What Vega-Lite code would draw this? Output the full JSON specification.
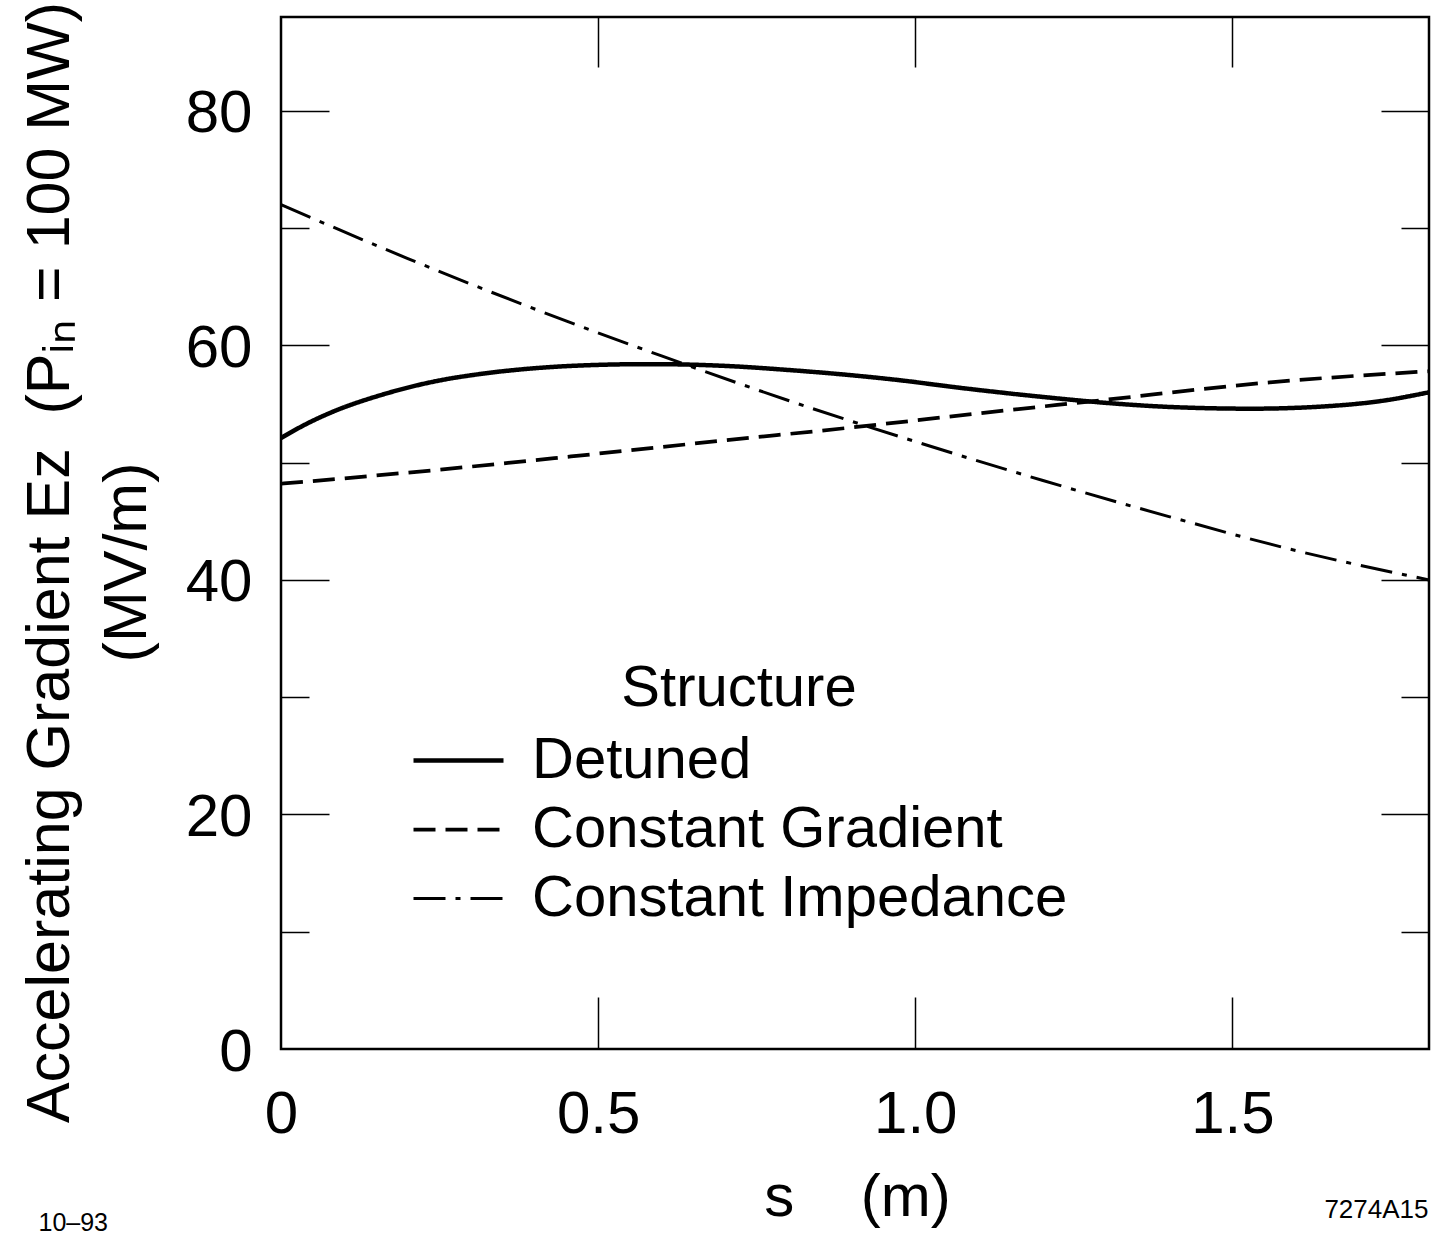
{
  "$schema": "https://vega.github.io/schema/vega-lite/v6.json",
  "width": 1148,
  "height": 1032,
  "autosize": {"type": "none"},
  "padding": {"left": 281, "top": 17, "right": 16, "bottom": 187},
  "background": "white",
  "datasets": {
    "curves": [
      {"s": 0, "E": 52.1, "structure": "Detuned"},
      {"s": 0.04, "E": 53.3, "structure": "Detuned"},
      {"s": 0.08, "E": 54.3, "structure": "Detuned"},
      {"s": 0.16, "E": 55.8, "structure": "Detuned"},
      {"s": 0.24, "E": 56.9, "structure": "Detuned"},
      {"s": 0.32, "E": 57.6, "structure": "Detuned"},
      {"s": 0.40, "E": 58.05, "structure": "Detuned"},
      {"s": 0.48, "E": 58.3, "structure": "Detuned"},
      {"s": 0.58, "E": 58.4, "structure": "Detuned"},
      {"s": 0.70, "E": 58.25, "structure": "Detuned"},
      {"s": 0.80, "E": 57.9, "structure": "Detuned"},
      {"s": 0.90, "E": 57.45, "structure": "Detuned"},
      {"s": 0.98, "E": 57.0, "structure": "Detuned"},
      {"s": 1.06, "E": 56.45, "structure": "Detuned"},
      {"s": 1.14, "E": 55.95, "structure": "Detuned"},
      {"s": 1.22, "E": 55.5, "structure": "Detuned"},
      {"s": 1.30, "E": 55.1, "structure": "Detuned"},
      {"s": 1.40, "E": 54.75, "structure": "Detuned"},
      {"s": 1.53, "E": 54.6, "structure": "Detuned"},
      {"s": 1.66, "E": 54.85, "structure": "Detuned"},
      {"s": 1.74, "E": 55.3, "structure": "Detuned"},
      {"s": 1.81, "E": 56.0, "structure": "Detuned"},
      {"s": 0, "E": 48.2, "structure": "Constant Gradient"},
      {"s": 0.25, "E": 49.4, "structure": "Constant Gradient"},
      {"s": 0.47, "E": 50.6, "structure": "Constant Gradient"},
      {"s": 0.70, "E": 51.9, "structure": "Constant Gradient"},
      {"s": 0.90, "E": 53.0, "structure": "Constant Gradient"},
      {"s": 1.10, "E": 54.2, "structure": "Constant Gradient"},
      {"s": 1.29, "E": 55.3, "structure": "Constant Gradient"},
      {"s": 1.55, "E": 56.8, "structure": "Constant Gradient"},
      {"s": 1.81, "E": 57.8, "structure": "Constant Gradient"},
      {"s": 0, "E": 72.0, "structure": "Constant Impedance"},
      {"s": 0.2, "E": 67.4, "structure": "Constant Impedance"},
      {"s": 0.4, "E": 63.1, "structure": "Constant Impedance"},
      {"s": 0.6, "E": 59.1, "structure": "Constant Impedance"},
      {"s": 0.8, "E": 55.3, "structure": "Constant Impedance"},
      {"s": 1.0, "E": 51.8, "structure": "Constant Impedance"},
      {"s": 1.2, "E": 48.5, "structure": "Constant Impedance"},
      {"s": 1.4, "E": 45.4, "structure": "Constant Impedance"},
      {"s": 1.6, "E": 42.5, "structure": "Constant Impedance"},
      {"s": 1.81, "E": 40.0, "structure": "Constant Impedance"}
    ]
  },
  "data": {"name": "curves"},
  "resolve": {
    "scale": {"x": "shared", "y": "shared"},
    "axis": {"x": "independent", "y": "independent"}
  },
  "layer": [
    {
      "mark": {"type": "line", "opacity": 0},
      "encoding": {
        "x": {"field": "s", "type": "quantitative", "scale": {"domain": [0, 1.81], "nice": false, "zero": false},
          "axis": {"orient": "bottom", "values": [0.5, 1, 1.5], "labels": false, "ticks": true, "tickSize": -52, "title": null}},
        "y": {"field": "E", "type": "quantitative", "scale": {"domain": [0, 88], "nice": false},
          "axis": {"orient": "left", "values": [20, 40, 60, 80], "labels": false, "ticks": true, "tickSize": -48, "title": null}},
        "detail": {"field": "structure"}
      }
    },
    {
      "mark": {"type": "line", "opacity": 0},
      "encoding": {
        "x": {"field": "s", "type": "quantitative",
          "axis": {"orient": "top", "values": [0.5, 1, 1.5], "labels": false, "ticks": true, "tickSize": -50, "title": null}},
        "y": {"field": "E", "type": "quantitative",
          "axis": {"orient": "right", "values": [20, 40, 60, 80], "labels": false, "ticks": true, "tickSize": -48, "title": null}},
        "detail": {"field": "structure"}
      }
    },
    {
      "mark": {"type": "line", "opacity": 0},
      "encoding": {
        "x": {"field": "s", "type": "quantitative",
          "axis": {"orient": "bottom", "labels": false, "ticks": false, "title": "7274A15", "titleFontSize": 26, "titleX": 1147, "titleY": 168, "titleAlign": "right", "titleBaseline": "alphabetic"}},
        "y": {"field": "E", "type": "quantitative",
          "axis": {"orient": "left", "values": [10, 30, 50, 70], "labels": false, "ticks": true, "tickSize": -28, "title": null}},
        "detail": {"field": "structure"}
      }
    },
    {
      "mark": {"type": "line", "opacity": 0},
      "encoding": {
        "x": {"field": "s", "type": "quantitative",
          "axis": {"orient": "bottom", "labels": false, "ticks": false, "title": "10–93", "titleFontSize": 25, "titleX": -243, "titleY": 181, "titleAlign": "left", "titleBaseline": "alphabetic"}},
        "y": {"field": "E", "type": "quantitative",
          "axis": {"orient": "right", "values": [10, 30, 50, 70], "labels": false, "ticks": true, "tickSize": -28, "title": null}},
        "detail": {"field": "structure"}
      }
    },
    {
      "mark": {"type": "line", "interpolate": "monotone", "color": "black"},
      "encoding": {
        "x": {"field": "s", "type": "quantitative",
          "axis": {"orient": "bottom", "values": [0, 0.5, 1, 1.5], "ticks": false,
            "labelExpr": "datum.value == 0 ? '0' : format(datum.value, '.1f')",
            "labelFontSize": 60, "labelBaseline": "alphabetic", "labelPadding": 83, "labelFlush": false, "labelOverlap": false,
            "title": "s\u00a0\u00a0\u00a0\u00a0(m)", "titleFontSize": 60, "titleX": 576, "titleY": 166, "titleBaseline": "alphabetic", "titleAlign": "center"}},
        "y": {"field": "E", "type": "quantitative",
          "axis": {"orient": "left", "values": [0, 20, 40, 60, 80], "ticks": false,
            "labelFontSize": 60, "labelBaseline": "alphabetic", "labelOffset": 21, "labelPadding": 29, "labelAlign": "right", "labelOverlap": false,
            "title": ["Accelerating Gradient Ez\u00a0\u00a0(Pᵢₙ = 100 MW)", "(MV/m)"],
            "titleFontSize": 61, "titleX": -213, "titleY": 545, "titleAngle": -90, "titleAlign": "center", "titleBaseline": "alphabetic", "titleLineHeight": 77, "titleLimit": 2000}},
        "strokeDash": {"field": "structure", "type": "nominal", "title": "Structure",
          "scale": {"domain": ["Detuned", "Constant Gradient", "Constant Impedance"], "range": [[1, 0], [22, 10], [32, 10, 5, 10]]}},
        "strokeWidth": {"field": "structure", "type": "nominal", "title": "Structure",
          "scale": {"domain": ["Detuned", "Constant Gradient", "Constant Impedance"], "range": [4.5, 3, 3]}}
      }
    }
  ],
  "config": {
    "font": "Liberation Sans",
    "view": {"stroke": "black", "strokeWidth": 2.5},
    "axis": {"domain": false, "grid": false, "tickColor": "black", "tickWidth": 1.5, "labelColor": "black", "titleColor": "black", "labelFont": "Liberation Sans", "titleFont": "Liberation Sans", "titleFontWeight": "normal"},
    "legend": {"orient": "none", "legendX": 130, "legendY": 643, "padding": 0, "titleFont": "Liberation Sans", "labelFont": "Liberation Sans", "titleFontSize": 58, "titleFontWeight": "normal", "titleColor": "black", "titleAnchor": "middle", "titlePadding": 8, "titleLimit": 1000, "labelFontSize": 58, "labelColor": "black", "labelOffset": 26, "symbolType": "stroke", "symbolSize": 8100, "symbolStrokeColor": "black", "clipHeight": 69, "rowPadding": 0, "labelLimit": 1000}
  }
}
